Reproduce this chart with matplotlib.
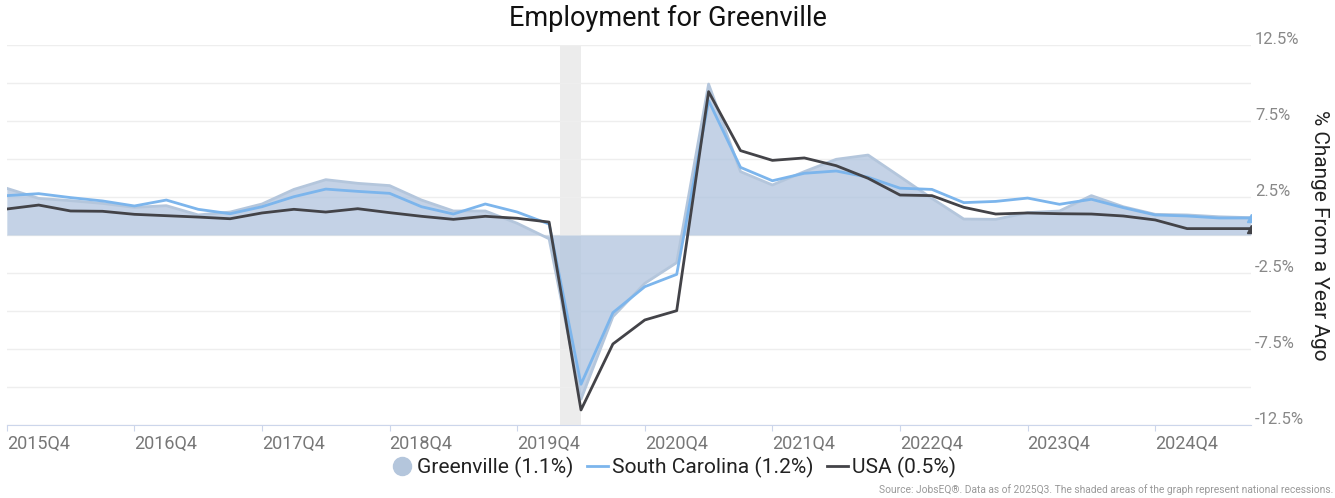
import matplotlib.pyplot as plt
import matplotlib.transforms as mtransforms
from matplotlib.lines import Line2D

# Quarterly % change from a year ago, 2015Q4 .. 2025Q3
greenville = [3.07, 2.41, 2.26, 2.08, 1.82, 1.93, 1.32, 1.51, 2.04, 3.0,
              3.64, 3.40, 3.25, 2.30, 1.58, 1.58, 0.77, -0.25, -10.8, -5.37,
              -3.18, -1.82, 9.93, 4.17, 3.29, 4.17, 4.98, 5.26, 3.84, 2.41,
              1.05, 1.03, 1.47, 1.58, 2.59, 1.86, 1.36, 1.32, 1.2, 1.14]
south_carolina = [2.59, 2.72, 2.46, 2.24, 1.91, 2.30, 1.69, 1.40, 1.86, 2.52,
                  3.02, 2.87, 2.74, 1.86, 1.38, 2.04, 1.51, 0.72, -9.82, -5.11,
                  -3.4, -2.59, 8.84, 4.45, 3.57, 4.06, 4.21, 3.80, 3.08, 3.0,
                  2.13, 2.21, 2.43, 2.02, 2.35, 1.8, 1.32, 1.25, 1.12, 1.12]
usa = [1.71, 1.97, 1.58, 1.56, 1.36, 1.27, 1.18, 1.07, 1.45, 1.69,
       1.51, 1.73, 1.47, 1.23, 1.03, 1.23, 1.1, 0.85, -11.51, -7.17,
       -5.59, -4.98, 9.43, 5.55, 4.91, 5.07, 4.56, 3.73, 2.63, 2.59,
       1.82, 1.38, 1.45, 1.4, 1.38, 1.25, 0.99, 0.42, 0.42, 0.42]

tick_labels = ["2015Q4", "2016Q4", "2017Q4", "2018Q4", "2019Q4",
               "2020Q4", "2021Q4", "2022Q4", "2023Q4", "2024Q4"]
y_ticks = [12.5, 10, 7.5, 5, 2.5, 0, -2.5, -5, -7.5, -10, -12.5]
y_labeled = [12.5, 7.5, 2.5, -2.5, -7.5, -12.5]
recession = (17.35, 18.0)  # in quarter index units

legend_labels = ["Greenville (1.1%)", "South Carolina (1.2%)", "USA (0.5%)"]

plt.rcParams['font.family'] = ['Roboto', 'DejaVu Sans']

fig = plt.figure(figsize=(13.35, 4.98), dpi=100)
ax = fig.add_axes([6.8 / 1335, 73 / 498, (1250.9 - 6.8) / 1335, 380 / 498])

x = list(range(len(greenville)))

ax.axvspan(recession[0], recession[1], color='#ececec', zorder=0, lw=0)
ax.fill_between(x, 0, greenville, color='#b0c4de', alpha=0.75, lw=0, zorder=2)
ax.plot(x, greenville, color='#b4c6dc', lw=2, zorder=2)
ax.plot(x, south_carolina, color='#7cb5ec', lw=2, zorder=3)
ax.plot(x, usa, color='#434348', lw=2, zorder=4)
ax.plot(x[-1], south_carolina[-1], marker='^', color='#7cb5ec', ms=6, zorder=5)
ax.plot(x[-1], usa[-1], marker='^', color='#434348', ms=6, zorder=5)

ax.set_xlim(0, len(greenville) - 1)
ax.set_ylim(-12.5, 12.5)

# grid + right-hand labels sitting just above their gridline
ax.set_yticks(y_ticks)
ax.set_yticklabels([f"{v}%" if v in y_labeled else "" for v in y_ticks])
ax.yaxis.tick_right()
ax.tick_params(axis='y', length=0, labelsize=12, labelcolor='#888888', pad=3)
offset = mtransforms.ScaledTranslation(0, 7 / 100, fig.dpi_scale_trans)
for lab in ax.get_yticklabels():
    lab.set_transform(lab.get_transform() + offset)
    lab.set_horizontalalignment('left')
ax.grid(axis='y', color='#eeeeee', lw=1, zorder=1)
ax.set_axisbelow(True)

ax.set_xticks([i * 4 for i in range(len(tick_labels))])
ax.set_xticklabels(tick_labels, ha='left')
ax.tick_params(axis='x', length=4, color='#ccd6eb', labelsize=13, labelcolor='#777777', pad=3)

for s in ['top', 'left', 'right']:
    ax.spines[s].set_visible(False)
ax.spines['bottom'].set_color('#ccd6eb')

fig.text(1319 / 1335, 1 - 235 / 498, "% Change From a Year Ago", rotation=270,
         ha='center', va='center', fontsize=15, color='#222222')

fig.text(0.5, 1 - 18 / 498, "Employment for Greenville", ha='center', va='center',
         fontsize=19.5, color='#111111')

handles = [Line2D([], [], marker='o', color='#b4c6dc', ms=13, ls='none'),
           Line2D([], [], color='#7cb5ec', lw=2),
           Line2D([], [], color='#434348', lw=2)]
fig.legend(handles, legend_labels, loc='center', bbox_to_anchor=(674 / 1335, 1 - 467 / 498), ncol=3,
           frameon=False, fontsize=15.1, handlelength=1.0, handletextpad=0.2, columnspacing=0.65,
           labelcolor='#222222')

fig.text(1333 / 1335, 1 - 490 / 498,
         "Source: JobsEQ\u00ae. Data as of 2025Q3. The shaded areas of the graph represent national recessions.",
         ha='right', va='center', fontsize=7.4, color='#999999')

fig.savefig("out.png", dpi=100)
